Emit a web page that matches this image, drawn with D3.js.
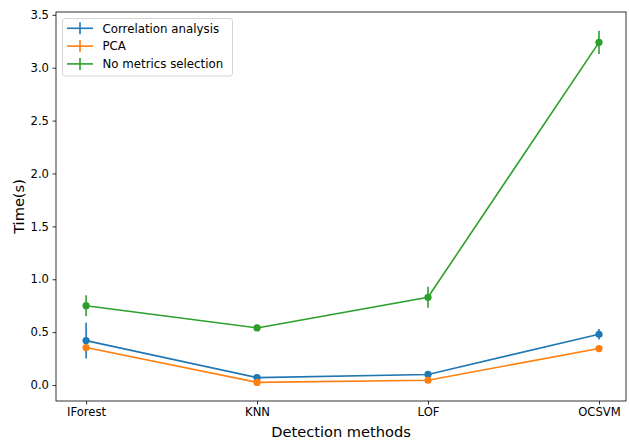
<!DOCTYPE html>
<html>
<head>
<meta charset="utf-8">
<script src="https://cdn.jsdelivr.net/npm/d3@7"></script>
<style>
    body { margin: 0; background: #fff; }
    svg { font-family: "DejaVu Sans", sans-serif; }
</style>
</head>
<body>
<svg id="chart" width="629" height="441"></svg>
<script>
const methods = ["IForest", "KNN", "LOF", "OCSVM"];
const seriesNames = ["Correlation analysis", "PCA", "No metrics selection"];
const corrValues = [0.42, 0.07, 0.10, 0.48];
const corrErrors = [0.17, 0.02, 0.02, 0.05];
const pcaValues = [0.355, 0.025, 0.045, 0.345];
const pcaErrors = [0.02, 0.01, 0.01, 0.02];
const noSelValues = [0.75, 0.54, 0.83, 3.24];
const noSelErrors = [0.10, 0.03, 0.10, 0.11];
const yTicks = [0.0, 0.5, 1.0, 1.5, 2.0, 2.5, 3.0, 3.5];
const colors = ["#1f77b4", "#ff7f0e", "#2ca02c"];

const series = [
    { name: seriesNames[0], values: corrValues, errors: corrErrors, color: colors[0] },
    { name: seriesNames[1], values: pcaValues, errors: pcaErrors, color: colors[1] },
    { name: seriesNames[2], values: noSelValues, errors: noSelErrors, color: colors[2] }
];

const svg = d3.select("#chart");
const plotLeft = 56, plotRight = 626, plotTop = 12, plotBottom = 401;

const x = d3.scaleLinear().domain([-0.176, 3.158]).range([plotLeft, plotRight]);
const y = d3.scaleLinear().domain([-0.151, 3.527]).range([plotBottom, plotTop]);

// axes
const xAxis = d3.axisBottom(x)
    .tickValues(d3.range(methods.length))
    .tickFormat(i => methods[i])
    .tickSize(3.5).tickPadding(3.5);
const yAxis = d3.axisLeft(y)
    .tickValues(yTicks)
    .tickFormat(d3.format(".1f"))
    .tickSize(3.5).tickPadding(3.5);

const gx = svg.append("g").attr("transform", `translate(0,${plotBottom})`).call(xAxis);
const gy = svg.append("g").attr("transform", `translate(${plotLeft},0)`).call(yAxis);
[gx, gy].forEach(g => {
    g.select(".domain").remove();
    g.selectAll("line").attr("stroke", "#000").attr("stroke-width", 0.8);
    g.selectAll("text").attr("font-size", 11.6).attr("fill", "#000")
        .attr("font-family", "DejaVu Sans");
});

// frame
svg.append("rect")
    .attr("x", plotLeft).attr("y", plotTop)
    .attr("width", plotRight - plotLeft).attr("height", plotBottom - plotTop)
    .attr("fill", "none").attr("stroke", "#000").attr("stroke-width", 0.8);

// lines, error bars, markers
const line = d3.line().x((d, i) => x(i)).y(d => y(d));
series.forEach(s => {
    const g = svg.append("g");
    g.append("path")
        .attr("d", line(s.values))
        .attr("fill", "none")
        .attr("stroke", s.color)
        .attr("stroke-width", 1.6);
    g.selectAll(".err").data(s.values).enter().append("line")
        .attr("x1", (d, i) => x(i)).attr("x2", (d, i) => x(i))
        .attr("y1", (d, i) => y(d - s.errors[i]))
        .attr("y2", (d, i) => y(d + s.errors[i]))
        .attr("stroke", s.color)
        .attr("stroke-width", 1.6);
    g.selectAll("circle").data(s.values).enter().append("circle")
        .attr("cx", (d, i) => x(i))
        .attr("cy", d => y(d))
        .attr("r", 3.6)
        .attr("fill", s.color);
});

// axis labels
svg.append("text")
    .attr("x", (plotLeft + plotRight) / 2).attr("y", 437)
    .attr("text-anchor", "middle")
    .attr("font-size", 14.6)
    .text("Detection methods");
svg.append("text")
    .attr("transform", `translate(23.5,${(plotTop + plotBottom) / 2}) rotate(-90)`)
    .attr("text-anchor", "middle")
    .attr("font-size", 14.6)
    .text("Time(s)");

// legend
const legend = svg.append("g");
legend.append("rect")
    .attr("x", 62.5).attr("y", 18.5)
    .attr("width", 170).attr("height", 57.5)
    .attr("rx", 2.5)
    .attr("fill", "#fff").attr("fill-opacity", 0.8)
    .attr("stroke", "#ccc").attr("stroke-width", 0.8);
series.forEach((s, i) => {
    const cy = 28.3 + i * 17.8;
    legend.append("line")
        .attr("x1", 67).attr("x2", 93).attr("y1", cy).attr("y2", cy)
        .attr("stroke", s.color).attr("stroke-width", 1.6);
    legend.append("line")
        .attr("x1", 80).attr("x2", 80).attr("y1", cy - 6).attr("y2", cy + 6)
        .attr("stroke", s.color).attr("stroke-width", 1.6);
    legend.append("text")
        .attr("x", 102.5).attr("y", cy + 4.2)
        .attr("font-size", 11.8)
        .text(s.name);
});
</script>
</body>
</html>
